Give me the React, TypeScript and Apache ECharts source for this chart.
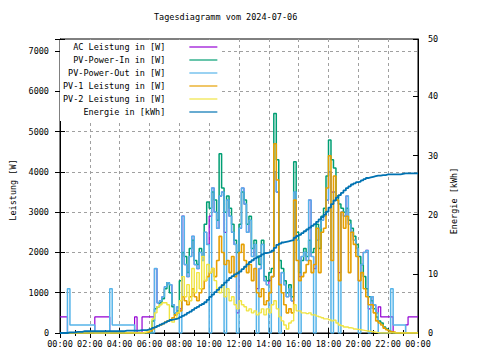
import React, { useEffect, useRef } from 'react';
import * as echarts from 'echarts';

const chartTitle = 'Tagesdiagramm vom 2024-07-06';
const leftAxisName = 'Leistung [W]';
const rightAxisName = 'Energie [kWh]';
const stepMinutes = 10; // one sample every 10 minutes, 00:00 .. 24:00
const seriesNames = [
  'AC Leistung in [W]',
  'PV-Power-In in [W]',
  'PV-Power-Out in [W]',
  'PV-1 Leistung in [W]',
  'PV-2 Leistung in [W]',
  'Energie in [kWh]',
];

// one row per hour (6 samples)
const acPower = [
  400, 400, 400, 0, 0, 0,
  0, 0, 0, 0, 0, 0,
  0, 0, 400, 400, 400, 400,
  400, 400, 0, 0, 0, 0,
  0, 0, 0, 0, 0, 0,
  400, 0, 0, 400, 400, 400,
  400, 400, 1600, 750, 800, 900,
  1150, 1250, 1200, 700, 500, 650,
  600, 2900, 1700, 1400, 1900, 2400,
  1700, 1600, 2000, 1800, 2500, 2200,
  2900, 3600, 3000, 2600, 3400, 3500,
  2500, 3300, 2900, 2500, 2200, 500,
  2600, 3600, 3200, 2500, 2800, 1900,
  2200, 1100, 1600, 2200, 1300, 1200,
  1300, 1400, 4000, 3500, 1200, 1500,
  1200, 900, 1100, 800, 3500, 2300,
  1400, 1900, 2000, 1800, 3300, 1900,
  1600, 2300, 2600, 2800, 2900, 3300,
  4000, 3500, 3500, 3300, 1500, 3000,
  2900, 3400, 2700, 2500, 2300, 2100,
  1300, 1700, 2000, 2050, 600, 900,
  700, 500, 650, 400, 400, 400,
  400, 400, 0, 0, 0, 0,
  0, 200, 400, 400, 400, 400,
  400,
];

const pvPowerIn = [
  0, 0, 0, 0, 0, 0,
  0, 0, 0, 0, 0, 0,
  0, 0, 0, 0, 0, 0,
  0, 0, 0, 0, 0, 0,
  0, 0, 0, 0, 0, 0,
  0, 0, 0, 0, 0, 0,
  0, 300, 600, 650, 750, 850,
  1100, 1250, 1000, 650, 450, 550,
  1300, 2000, 1900, 1500, 2100, 2300,
  1800, 1700, 2100, 1900, 2700, 3250,
  3100, 3500, 3300, 2800, 4450, 3600,
  3000, 3400, 3100, 2700, 2300, 2000,
  2700, 3500, 3300, 2700, 2900, 2100,
  2300, 1900, 1700, 2300, 1400, 1300,
  1500, 1600, 5450, 4300, 1800, 1600,
  1300, 1000, 1200, 900, 4250, 2500,
  1500, 1800, 2100, 1900, 2300, 2000,
  2100, 2700, 2100, 2900, 3100, 3900,
  4790, 4300, 4100, 3400, 3200, 3100,
  3000, 3100, 2800, 2600, 2400, 2200,
  1900, 1700, 1400, 1100, 900, 800,
  600, 400, 300, 250, 150, 100,
  60, 30, 0, 0, 0, 0,
  0, 0, 0, 0, 0, 0,
  0,
];

const pvPowerOut = [
  0, 0, 0, 1100, 200, 200,
  200, 200, 200, 200, 200, 200,
  200, 200, 0, 0, 0, 0,
  0, 0, 1100, 200, 200, 200,
  200, 200, 200, 200, 200, 200,
  0, 0, 0, 0, 0, 0,
  0, 0, 1600, 750, 800, 900,
  1150, 1250, 1200, 700, 500, 650,
  0, 2900, 1700, 1400, 1900, 2400,
  1700, 1600, 2000, 1800, 2500, 2200,
  0, 3600, 3000, 2600, 3400, 3500,
  0, 3300, 2900, 2500, 2200, 0,
  2600, 3600, 3200, 2500, 2800, 1900,
  2200, 0, 1600, 2200, 1300, 1200,
  0, 1400, 4000, 3500, 0, 1500,
  1200, 900, 1100, 800, 3500, 2300,
  0, 1900, 2000, 1800, 3300, 1900,
  0, 2300, 2600, 2800, 2900, 3300,
  4000, 0, 3500, 3300, 0, 3000,
  2900, 3400, 2700, 2500, 2300, 2100,
  0, 1700, 2000, 2050, 0, 900,
  700, 500, 0, 0, 0, 0,
  0, 1100, 200, 200, 200, 200,
  200, 0, 0, 0, 0, 0,
  0,
];

const pv1Power = [
  0, 0, 0, 0, 0, 0,
  0, 0, 0, 0, 0, 0,
  0, 0, 0, 0, 0, 0,
  0, 0, 0, 0, 0, 0,
  0, 0, 0, 0, 0, 0,
  0, 0, 0, 0, 10, 20,
  50, 100, 150, 180, 200, 230,
  270, 300, 320, 380, 450, 500,
  550, 900, 800, 700, 900, 1100,
  900, 800, 1000, 1100, 1300, 1400,
  1500, 1600, 1400, 1800, 2400, 2000,
  1700, 1800, 1500, 1900, 1400, 1500,
  2000, 2200, 1800, 1500, 1700, 1300,
  1600, 1000, 900, 1100, 700, 800,
  1000, 1400, 4700, 3800, 1200, 1000,
  700, 500, 600, 500, 3300, 1800,
  1300, 1400, 1500, 1700, 1800, 1500,
  1700, 2600, 1500, 2500, 2600, 3600,
  4400, 1800, 3900, 3300, 1300, 3000,
  2600, 2900, 1500, 2500, 2200, 1900,
  1300, 1500, 1100, 900, 700, 700,
  500, 300, 250, 200, 120, 80,
  50, 30, 20, 0, 0, 0,
  0, 0, 0, 0, 0, 0,
  0,
];

const pv2Power = [
  0, 0, 0, 0, 0, 0,
  0, 0, 0, 0, 0, 0,
  0, 0, 0, 0, 0, 0,
  0, 0, 0, 0, 0, 0,
  0, 0, 0, 0, 0, 0,
  0, 0, 0, 0, 20, 50,
  100, 350, 500, 650, 700, 750,
  750, 700, 300, 270, 350, 500,
  800, 1400, 900, 1200, 800, 1600,
  1000, 1500, 1100, 1900, 1300, 1700,
  1500, 1600, 1300, 1100, 1000, 1200,
  900, 1100, 800, 900, 700, 600,
  800, 700, 650, 550, 600, 500,
  550, 450, 500, 600, 450, 600,
  500, 700, 800, 600, 400, 300,
  200, 100, 250, 300, 700, 550,
  550, 500, 500, 480, 500, 450,
  450, 420, 400, 380, 350, 350,
  330, 300, 320, 250, 200, 180,
  150, 150, 130, 120, 100, 90,
  80, 70, 60, 50, 40, 30,
  20, 10, 0, 0, 0, 0,
  0, 0, 0, 0, 0, 0,
  0, 0, 0, 0, 0, 0,
  0,
];

const energyKWh = [
  0, 0, 0, 0.1, 0.1, 0.1,
  0.2, 0.2, 0.2, 0.3, 0.3, 0.3,
  0.3, 0.3, 0.3, 0.3, 0.3, 0.3,
  0.3, 0.3, 0.3, 0.3, 0.3, 0.3,
  0.3, 0.3, 0.4, 0.4, 0.4, 0.4,
  0.4, 0.4, 0.5, 0.5, 0.5, 0.6,
  0.7, 0.85, 1.0, 1.2, 1.4, 1.6,
  1.8, 2.0, 2.2, 2.3, 2.4, 2.5,
  2.7, 2.9, 3.1, 3.4, 3.6, 3.9,
  4.2, 4.4, 4.7, 4.9, 5.2, 5.6,
  6.1, 6.5, 6.9, 7.3, 7.7, 8.1,
  8.5, 8.9, 9.3, 9.6, 9.9, 10.1,
  10.4, 10.8, 11.2, 11.6, 12.0, 12.3,
  12.6, 12.8, 13.0, 13.3, 13.5, 13.6,
  13.7, 13.9, 14.4, 14.9, 15.1, 15.3,
  15.4, 15.5, 15.6, 15.7, 16.1, 16.4,
  16.6, 16.9, 17.2, 17.5, 17.8, 18.1,
  18.4, 18.8, 19.2, 19.6, 20.0, 20.5,
  21.2, 21.8, 22.4, 22.9, 23.3, 23.7,
  24.1, 24.5, 24.8, 25.1, 25.3, 25.5,
  25.6, 25.8, 26.0, 26.2, 26.3, 26.4,
  26.5, 26.6, 26.6, 26.7, 26.7, 26.8,
  26.8, 26.8, 26.8, 26.8, 26.8, 26.9,
  27.0, 27.0, 27.0, 27.0, 27.0, 27.0,
  27.0,
];

const seriesColors = ['#9400d3', '#009e73', '#56b4e9', '#e69f00', '#f0e442', '#0072b2'];
const FONT = 'DejaVu Sans Mono';

function toPoints(values: number[]) {
  return values.map((v, i) => [i * stepMinutes, v]);
}

function clock(m: number) {
  const h = Math.floor(m / 60) % 24;
  return (h < 10 ? '0' : '') + h + ':00';
}

export default function App() {
  const ref = useRef<HTMLDivElement>(null);
  useEffect(() => {
    const chart = echarts.init(ref.current!, null, { renderer: 'svg' });
    const txt = { fontFamily: FONT, fontSize: 8.5, color: '#000' };
    const dashed = { color: '#a0a0a0', width: 1, type: [3, 3] as any };
    const powerSeries = [acPower, pvPowerIn, pvPowerOut, pv1Power, pv2Power];
    const widths = [1.2, 1.5, 1.5, 1.6, 1.4];
    const series: any[] = powerSeries.map((vals, k) => ({
      name: seriesNames[k],
      type: 'line',
      step: 'end',
      symbol: 'none',
      xAxisIndex: 0,
      yAxisIndex: 0,
      data: toPoints(vals),
      lineStyle: { color: seriesColors[k], width: widths[k] },
      itemStyle: { color: seriesColors[k] },
    }));
    series.push({
      name: seriesNames[5],
      type: 'line',
      step: 'end',
      symbol: 'none',
      xAxisIndex: 0,
      yAxisIndex: 1,
      data: toPoints(energyKWh),
      lineStyle: { color: seriesColors[5], width: 1.8 },
      itemStyle: { color: seriesColors[5] },
    });

    chart.setOption({
      animation: false,
      backgroundColor: '#fff',
      title: {
        text: chartTitle,
        left: 154,
        top: 12,
        padding: 0,
        textStyle: { ...txt, fontWeight: 'normal' },
      },
      legend: {
        data: seriesNames,
        orient: 'vertical',
        align: 'right',
        left: 60,
        top: 40,
        padding: [2, 4, 4, 3],
        itemWidth: 28,
        itemHeight: 10,
        itemGap: 3,
        backgroundColor: '#fff',
        selectedMode: false,
        itemStyle: { opacity: 0 },
        lineStyle: { width: 1.2 },
        textStyle: { ...txt, padding: [0, 19, 0, 0], lineHeight: 10 },
      },
      grid: {
        left: 58,
        top: 39,
        right: 62,
        bottom: 27,
        show: true,
        borderColor: '#000',
        borderWidth: 1,
        backgroundColor: 'transparent',
      },
      xAxis: [
        {
          type: 'value',
          min: 0,
          max: 1440,
          interval: 120,
          position: 'bottom',
          axisLine: { show: true, lineStyle: { color: '#000', width: 1 } },
          axisTick: { show: true, inside: true, length: 5, lineStyle: { color: '#000' } },
          minorTick: { show: true, splitNumber: 2, length: 3, lineStyle: { color: '#000' } },
          axisLabel: { ...txt, margin: 6, formatter: (v: number) => clock(v) },
          splitLine: { show: true, lineStyle: dashed, showMinLine: false, showMaxLine: false },
        },
        {
          type: 'value',
          min: 0,
          max: 1440,
          interval: 120,
          position: 'top',
          axisLine: { show: true, lineStyle: { color: '#000', width: 1 } },
          axisTick: { show: true, inside: true, length: 5, lineStyle: { color: '#000' } },
          minorTick: { show: true, splitNumber: 2, length: 3, lineStyle: { color: '#000' } },
          axisLabel: { show: false },
          splitLine: { show: false },
        },
      ],
      yAxis: [
        {
          type: 'value',
          min: 0,
          max: 7300,
          interval: 1000,
          position: 'left',
          name: leftAxisName,
          nameLocation: 'middle',
          nameGap: 43,
          nameRotate: 90,
          nameTextStyle: { ...txt, padding: [0, 8, 0, 0] },
          axisLine: { show: true, onZero: false, lineStyle: { color: '#000', width: 1 } },
          axisTick: { show: true, inside: true, length: 5, lineStyle: { color: '#000' } },
          axisLabel: {
            ...txt,
            margin: 11,
            formatter: (v: number) => (v % 1000 === 0 ? String(v) : ''),
          },
          splitLine: { show: true, lineStyle: dashed, showMinLine: false, showMaxLine: false },
        },
        {
          type: 'value',
          min: 0,
          max: 49.7,
          interval: 10,
          position: 'right',
          name: rightAxisName,
          nameLocation: 'middle',
          nameGap: 29,
          nameRotate: 90,
          nameTextStyle: { ...txt, padding: [0, 30, 0, 0] },
          axisLine: { show: true, onZero: false, lineStyle: { color: '#000', width: 1 } },
          axisTick: { show: true, inside: true, length: 5, lineStyle: { color: '#000' } },
          axisLabel: {
            ...txt,
            margin: 10,
            formatter: (v: number) => String(Math.round(v / 10) * 10),
          },
          splitLine: { show: false },
        },
        {
          type: 'value',
          min: 0,
          max: 7300,
          interval: 1000,
          position: 'right',
          axisLine: { show: false },
          axisTick: { show: true, inside: true, length: 5, lineStyle: { color: '#000' } },
          axisLabel: { show: false },
          splitLine: { show: false },
        },
      ],
      series,
    });
    return () => chart.dispose();
  }, []);
  return (
    <div
      ref={ref}
      style={{ position: 'fixed', left: 0, top: 0, width: 480, height: 360, background: '#fff' }}
    />
  );
}
